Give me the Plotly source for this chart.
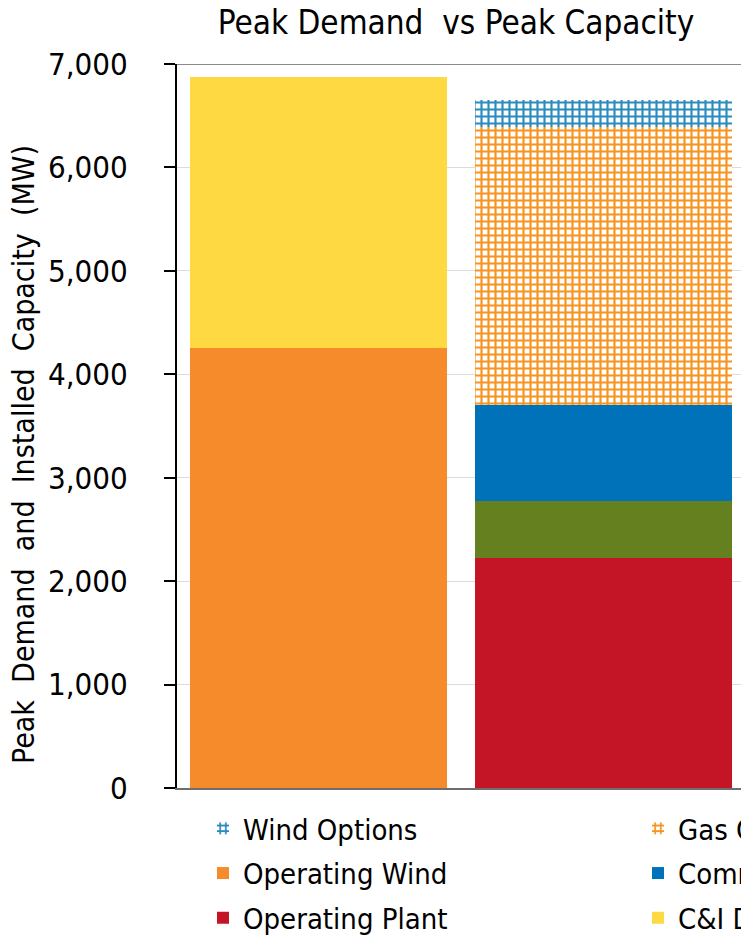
import plotly.graph_objects as go

# Categories on the x axis (the two stacked columns)
categories = ["Peak Demand", "Peak Capacity"]

# Stacked series values in MW, one value per category
operating_wind = [4250, None]
ci_demand = [2620, None]
operating_plant = [None, 2220]
other_plant = [None, 555]
committed_plant = [None, 930]
gas_options = [None, 2690]
wind_options = [None, 260]

y_ticks = [0, 1000, 2000, 3000, 4000, 5000, 6000, 7000]
y_tick_text = ["0", "1,000", "2,000", "3,000", "4,000", "5,000", "6,000", "7,000"]

FONT = "DejaVu Sans Condensed, DejaVu Sans, sans-serif"
WIDE = " \u00a0"  # wider word gap for the axis caption

# Plot area in pixels (used to place the rotated axis caption)
PLOT_L, PLOT_R, PLOT_T, PLOT_B = 177, 741, 64, 788

fig = go.Figure()


def solid(name, values, color, legend="legend", rank=1000, show=True):
    fig.add_trace(go.Bar(
        x=categories, y=values, name=name, legend=legend,
        legendgroup=name, legendrank=rank, showlegend=show,
        marker=dict(color=color, line=dict(width=0)),
    ))


def hatched(name, values, color, legend, rank):
    fig.add_trace(go.Bar(
        x=categories, y=values, name=name, legend=legend, legendgroup=name,
        legendrank=rank,
        marker=dict(
            color="white", line=dict(width=0),
            pattern=dict(shape="+", fgcolor=color, bgcolor="white",
                         fgopacity=1, size=7, solidity=0.52,
                         fillmode="replace"),
        ),
    ))


# Bottom-to-top stacking order
solid("Operating Plant", operating_plant, "#C41526", legend="legend", rank=3)
solid("Other Plant", other_plant, "#64801F", show=False)
solid("Committed Plant", committed_plant, "#0072BA", legend="legend2", rank=2)
hatched("Gas Options", gas_options, "#F7941F", "legend2", 1)
hatched("Wind Options", wind_options, "#2A8BBF", "legend", 1)
solid("Operating Wind", operating_wind, "#F58B2B", legend="legend", rank=2)
solid("C&I Demand", ci_demand, "#FFD942", legend="legend2", rank=3)

legend_common = dict(
    font=dict(family=FONT, size=29, color="black"),
    bgcolor="rgba(0,0,0,0)", borderwidth=0,
    xref="container", yref="container", xanchor="left", yanchor="top",
    orientation="v", tracegroupgap=4, itemwidth=30,
    traceorder="grouped",
)

fig.update_layout(
    width=741, height=941,
    barmode="stack", bargap=0.098,
    plot_bgcolor="white", paper_bgcolor="white",
    margin=dict(l=PLOT_L, r=741 - PLOT_R, t=PLOT_T, b=941 - PLOT_B,
                autoexpand=False),
    title=dict(
        text="Peak Demand\u00a0 vs Peak Capacity",
        font=dict(family=FONT, size=33, color="black"),
        xref="container", x=456 / 741, xanchor="center",
        yref="container", y=1 - 22 / 941, yanchor="middle",
    ),
    xaxis=dict(
        range=[-0.4965, 1.482], showticklabels=False, ticks="",
        showgrid=False, showline=True, linecolor="#6E6E6E", linewidth=2,
        zeroline=False,
    ),
    yaxis=dict(
        range=[0, 7000], tickvals=y_ticks, ticktext=y_tick_text,
        tickfont=dict(family=FONT, size=31, color="black"),
        ticks="outside", ticklen=11, tickwidth=2, tickcolor="black",
        ticklabelstandoff=30, automargin=False,
        showline=True, linecolor="black", linewidth=2,
        showgrid=True, gridcolor="#DCDCDC", gridwidth=1, zeroline=False,
    ),
    annotations=[dict(
        text=WIDE.join(["Peak", "Demand", "and", "Installed", "Capacity", "(MW)"]),
        font=dict(family=FONT, size=30, color="black"),
        textangle=-90, showarrow=False,
        xref="paper", x=(23 - PLOT_L) / (PLOT_R - PLOT_L), xanchor="center",
        yref="paper", y=(PLOT_B - 455) / (PLOT_B - PLOT_T), yanchor="middle",
    )],
    legend=dict(legend_common, x=203 / 741, y=1 - 803 / 941),
    legend2=dict(legend_common, x=638 / 741, y=1 - 803 / 941),
    shapes=[dict(type="line", xref="paper", yref="y", x0=0, x1=1,
                 y0=7000, y1=7000, line=dict(color="#8A8A8A", width=2))],
)

fig.write_html("out.html")
